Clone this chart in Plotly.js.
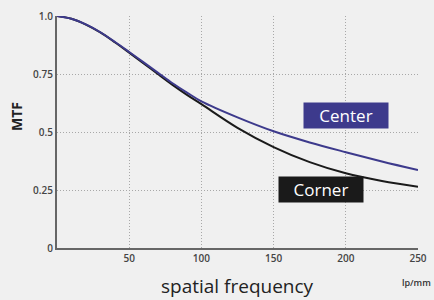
<!DOCTYPE html>
<html>
<head>
<meta charset="utf-8">
<script src="https://cdn.plot.ly/plotly-3.0.1.min.js"></script>
<style>
html,body{margin:0;padding:0;background:#f0f0f0;}
#chart{width:434px;height:300px;}
</style>
</head>
<body>
<div id="chart"></div>
<script>
// spatial frequency (lp/mm)
const freq = [0, 10, 20, 30, 40, 50, 60, 70, 80, 90, 100, 125, 150, 175, 200, 225, 250];
// MTF values
const centerMTF = [1.0, 0.988, 0.964, 0.93, 0.889, 0.845, 0.80, 0.755, 0.71, 0.67, 0.632, 0.563, 0.503, 0.455, 0.413, 0.373, 0.336];
const cornerMTF = [1.0, 0.988, 0.963, 0.929, 0.887, 0.842, 0.796, 0.749, 0.703, 0.66, 0.62, 0.518, 0.435, 0.37, 0.322, 0.289, 0.264];
const xTicks = [50, 100, 150, 200, 250];
const xTickLabels = ['50', '100', '150', '200', '250'];
const yTicks = [0, 0.25, 0.5, 0.75, 1.0];
const yTickLabels = ['0', '0.25', '0.5', '0.75', '1.0'];
const seriesNames = ['Center', 'Corner'];

const tickFont = {family: 'Open Sans, sans-serif', size: 10, color: '#444', weight: 600};

const traces = [
  {x: freq, y: cornerMTF, name: seriesNames[1], type: 'scatter', mode: 'lines',
   line: {color: '#1a1a1a', width: 2, shape: 'spline', smoothing: 1}},
  {x: freq, y: centerMTF, name: seriesNames[0], type: 'scatter', mode: 'lines',
   line: {color: '#3d3a8c', width: 2, shape: 'spline', smoothing: 1}}
];

const gridStyle = {showgrid: true, gridcolor: '#a8a8a8', griddash: '1px,2px', gridwidth: 1};

const layout = {
  width: 434, height: 300,
  margin: {l: 57, r: 16, t: 16, b: 52},
  paper_bgcolor: '#f0f0f0',
  plot_bgcolor: '#f0f0f0',
  showlegend: false,
  xaxis: Object.assign({
    range: [0, 250], tickvals: xTicks, ticktext: xTickLabels,
    zeroline: false, showline: true, linecolor: '#666', linewidth: 2,
    ticks: '', tickfont: tickFont, fixedrange: true
  }, gridStyle),
  yaxis: Object.assign({
    range: [0, 1], tickvals: yTicks, ticktext: yTickLabels,
    zeroline: false, showline: true, linecolor: '#666', linewidth: 2,
    ticks: '', tickfont: tickFont, fixedrange: true
  }, gridStyle),
  annotations: [
    {text: seriesNames[0], x: 200, y: 0.571, xref: 'x', yref: 'y', showarrow: false,
     xanchor: 'center', yanchor: 'middle',
     bgcolor: '#3d3a8c', font: {family: 'Open Sans, sans-serif', size: 17, color: '#ffffff'},
     width: 84, height: 25, borderpad: 0},
    {text: seriesNames[1], x: 182.8, y: 0.252, xref: 'x', yref: 'y', showarrow: false,
     xanchor: 'center', yanchor: 'middle',
     bgcolor: '#1a1a1a', font: {family: 'Open Sans, sans-serif', size: 17, color: '#ffffff'},
     width: 84, height: 25, borderpad: 0},
    {text: 'MTF', x: 17, y: 117, showarrow: false, textangle: -90,
     font: {family: 'Open Sans, sans-serif', size: 14, color: '#222', weight: 700}},
    {text: 'spatial frequency', x: 237, y: 286, showarrow: false,
     font: {family: 'Open Sans, sans-serif', size: 19, color: '#222'}},
    {text: 'lp/mm', x: 416, y: 282, showarrow: false,
     font: {family: 'Open Sans, sans-serif', size: 9, color: '#333', weight: 600}}
  ]
};

// convert pixel positions of the free labels to paper coords
const pw = 434 - 57 - 16, ph = 300 - 16 - 52;
layout.annotations.slice(2).forEach(a => {
  a.xref = 'paper'; a.yref = 'paper';
  a.xanchor = 'center'; a.yanchor = 'middle';
  a.x = (a.x - 57) / pw;
  a.y = (300 - 52 - a.y) / ph;
});

Plotly.newPlot('chart', traces, layout, {displayModeBar: false, staticPlot: true});
</script>
</body>
</html>
